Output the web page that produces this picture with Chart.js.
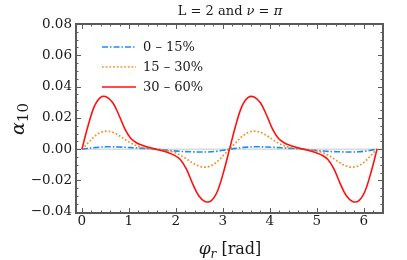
<!DOCTYPE html>
<html>
<head>
<meta charset="utf-8">
<script src="https://cdn.jsdelivr.net/npm/chart.js@4.4.1/dist/chart.umd.min.js"></script>
<style>
  html, body { margin: 0; padding: 0; background: #fff; }
  #wrap { width: 407px; height: 260px; }
</style>
</head>
<body>
<div id="wrap"><canvas id="chart" width="407" height="260"></canvas></div>
<script>
// phi_r 값 (rad), 0 ~ 2pi
const phi = [0, 0.131, 0.262, 0.393, 0.524, 0.654, 0.785, 0.916, 1.047, 1.178, 1.309, 1.440,
  1.571, 1.702, 1.833, 1.963, 2.094, 2.225, 2.356, 2.487, 2.618, 2.749, 2.880, 3.011,
  3.142, 3.272, 3.403, 3.534, 3.665, 3.796, 3.927, 4.058, 4.189, 4.320, 4.451, 4.581,
  4.712, 4.843, 4.974, 5.105, 5.236, 5.367, 5.498, 5.629, 5.760, 5.890, 6.021, 6.152, 6.283];

// 0 - 15%
const alphaLow = [0, 0.0005, 0.0010, 0.0013, 0.0015, 0.0015, 0.0014, 0.0012, 0.0010, 0.0008, 0.0005, 0.0003,
  0.0001, -0.0004, -0.0008, -0.0011, -0.0014, -0.0016, -0.0017, -0.0018, -0.0018, -0.0017, -0.0013, -0.0007,
  0, 0.0005, 0.0010, 0.0013, 0.0015, 0.0015, 0.0014, 0.0012, 0.0010, 0.0008, 0.0005, 0.0003,
  0.0001, -0.0004, -0.0008, -0.0011, -0.0014, -0.0016, -0.0017, -0.0018, -0.0018, -0.0017, -0.0013, -0.0007, 0];

// 15 - 30%
const alphaMid = [0, 0.0040, 0.0080, 0.0106, 0.0115, 0.0108, 0.0088, 0.0062, 0.0038, 0.0020, 0.0010, 0.0004,
  0, -0.0004, -0.0010, -0.0020, -0.0038, -0.0062, -0.0088, -0.0108, -0.0115, -0.0106, -0.0080, -0.0040,
  0, 0.0040, 0.0080, 0.0106, 0.0115, 0.0108, 0.0088, 0.0062, 0.0038, 0.0020, 0.0010, 0.0004,
  0, -0.0004, -0.0010, -0.0020, -0.0038, -0.0062, -0.0088, -0.0108, -0.0115, -0.0106, -0.0080, -0.0040, 0];

// 30 - 60%
const alphaHigh = [0, 0.0150, 0.0272, 0.0330, 0.0334, 0.0298, 0.0220, 0.0128, 0.0066, 0.0038, 0.0022, 0.0010,
  0, -0.0010, -0.0022, -0.0038, -0.0066, -0.0128, -0.0220, -0.0298, -0.0334, -0.0330, -0.0272, -0.0150,
  0, 0.0150, 0.0272, 0.0330, 0.0334, 0.0298, 0.0220, 0.0128, 0.0066, 0.0038, 0.0022, 0.0010,
  0, -0.0010, -0.0022, -0.0038, -0.0066, -0.0128, -0.0220, -0.0298, -0.0334, -0.0330, -0.0272, -0.0150, 0];

const seriesLabels = ['0 \u2013 15%', '15 \u2013 30%', '30 \u2013 60%'];
const xTicks = [0, 1, 2, 3, 4, 5, 6];
const yTicks = [-0.04, -0.02, 0, 0.02, 0.04, 0.06, 0.08];

const SERIF = "'DejaVu Serif', serif";
const toXY = arr => arr.map((v, i) => ({ x: phi[i], y: v }));

// 프레임, 안쪽 눈금, 라벨, 범례 그리기
const framePlugin = {
  id: 'frame',
  beforeDatasetsDraw(chart) {
    const { ctx, chartArea: a, scales: { y } } = chart;
    const y0 = y.getPixelForValue(0);
    ctx.save();
    ctx.strokeStyle = '#c8c8c8';
    ctx.lineWidth = 1;
    ctx.beginPath();
    ctx.moveTo(a.left, y0);
    ctx.lineTo(a.right, y0);
    ctx.stroke();
    ctx.restore();
  },
  afterDraw(chart) {
    const { ctx, chartArea: a, scales: { x, y } } = chart;
    ctx.save();
    ctx.strokeStyle = '#5a5a5a';
    ctx.lineWidth = 1;

    // x 눈금 (위/아래)
    for (let v = 0; v <= 6.4; v += 0.2) {
      const major = Math.abs(v - Math.round(v)) < 1e-6;
      const len = major ? 5 : 2.5;
      const px = Math.round(x.getPixelForValue(v)) + 0.5;
      ctx.beginPath();
      ctx.moveTo(px, a.bottom); ctx.lineTo(px, a.bottom - len);
      ctx.moveTo(px, a.top); ctx.lineTo(px, a.top + len);
      ctx.stroke();
    }
    // y 눈금 (좌/우)
    for (let k = -8; k <= 16; k++) {
      const v = k * 0.005;
      const len = (k % 4 === 0) ? 5 : 2.5;
      const py = Math.round(y.getPixelForValue(v)) + 0.5;
      ctx.beginPath();
      ctx.moveTo(a.left, py); ctx.lineTo(a.left + len, py);
      ctx.moveTo(a.right, py); ctx.lineTo(a.right - len, py);
      ctx.stroke();
    }
    ctx.lineWidth = 2;
    ctx.strokeRect(a.left, a.top, a.right - a.left, a.bottom - a.top);

    // 눈금 라벨
    ctx.fillStyle = '#1a1a1a';
    ctx.font = '13.5px ' + SERIF;
    ctx.textAlign = 'center';
    ctx.textBaseline = 'alphabetic';
    xTicks.forEach(v => ctx.fillText(String(v), x.getPixelForValue(v), 225));
    ctx.textAlign = 'right';
    ctx.textBaseline = 'middle';
    yTicks.forEach(v => {
      const s = (v < 0 ? '\u2212' : '') + Math.abs(v).toFixed(2);
      ctx.fillText(s, 72, y.getPixelForValue(v));
    });

    // 제목
    drawRuns(ctx, 230, 15, [
      ['L = 2 and ', '13px ' + SERIF, 0],
      ['\u03bd', 'italic 13px ' + SERIF, 0],
      [' = ', '13px ' + SERIF, 0],
      ['\u03c0', 'italic 13px ' + SERIF, 0]
    ]);

    // x 축 제목
    drawRuns(ctx, 230, 254, [
      ['\u03c6', 'italic 17px ' + SERIF, 0],
      ['r', 'italic 12px ' + SERIF, 4],
      [' [rad]', '16px ' + SERIF, 0]
    ]);

    // y 축 제목 (회전)
    ctx.save();
    ctx.translate(24, 119);
    ctx.rotate(-Math.PI / 2);
    drawRuns(ctx, 0, 0, [
      ['\u03b1', 'italic 19px ' + SERIF, 0],
      ['10', '15px ' + SERIF, 4]
    ]);
    ctx.restore();

    // 범례
    const rows = [47, 67, 87];
    [0, 1, 2].forEach((di, i) => {
      const ds = chart.data.datasets[di];
      ctx.save();
      ctx.strokeStyle = ds.borderColor;
      ctx.lineWidth = ds.borderWidth;
      ctx.setLineDash(ds.borderDash || []);
      ctx.beginPath();
      ctx.moveTo(102, rows[i]);
      ctx.lineTo(136, rows[i]);
      ctx.stroke();
      ctx.restore();
      ctx.fillStyle = '#1a1a1a';
      ctx.font = '13px ' + SERIF;
      ctx.textAlign = 'left';
      ctx.textBaseline = 'middle';
      ctx.fillText(ds.label, 143, rows[i] + 1);
    });
    ctx.restore();
  }
};

// 글꼴이 다른 텍스트 조각들을 가운데 정렬로 이어서 그림
function drawRuns(ctx, cx, baseY, runs) {
  ctx.save();
  ctx.textAlign = 'left';
  ctx.textBaseline = 'alphabetic';
  ctx.fillStyle = '#1a1a1a';
  let total = 0;
  runs.forEach(r => { ctx.font = r[1]; total += ctx.measureText(r[0]).width; });
  let px = cx - total / 2;
  runs.forEach(r => {
    ctx.font = r[1];
    ctx.fillText(r[0], px, baseY + r[2]);
    px += ctx.measureText(r[0]).width;
  });
  ctx.restore();
}

new Chart(document.getElementById('chart'), {
  type: 'line',
  data: {
    datasets: [
      {
        label: seriesLabels[0],
        data: toXY(alphaLow),
        borderColor: '#1a8cff',
        borderWidth: 1.6,
        borderDash: [6, 2, 1.5, 2],
        order: 2
      },
      {
        label: seriesLabels[1],
        data: toXY(alphaMid),
        borderColor: '#ff8c1a',
        borderWidth: 1.7,
        borderDash: [1.7, 2],
        order: 1
      },
      {
        label: seriesLabels[2],
        data: toXY(alphaHigh),
        borderColor: '#ff1010',
        borderWidth: 1.6,
        order: 0
      }
    ]
  },
  options: {
    responsive: false,
    animation: false,
    layout: { padding: { left: 76, right: 24, top: 24, bottom: 47 } },
    elements: {
      point: { radius: 0 },
      line: { tension: 0.35, fill: false }
    },
    plugins: {
      legend: { display: false },
      title: { display: false },
      tooltip: { enabled: false }
    },
    scales: {
      x: { type: 'linear', min: -0.126, max: 6.409, display: false },
      y: { type: 'linear', min: -0.0408, max: 0.08, display: false }
    }
  },
  plugins: [framePlugin]
});
</script>
</body>
</html>
